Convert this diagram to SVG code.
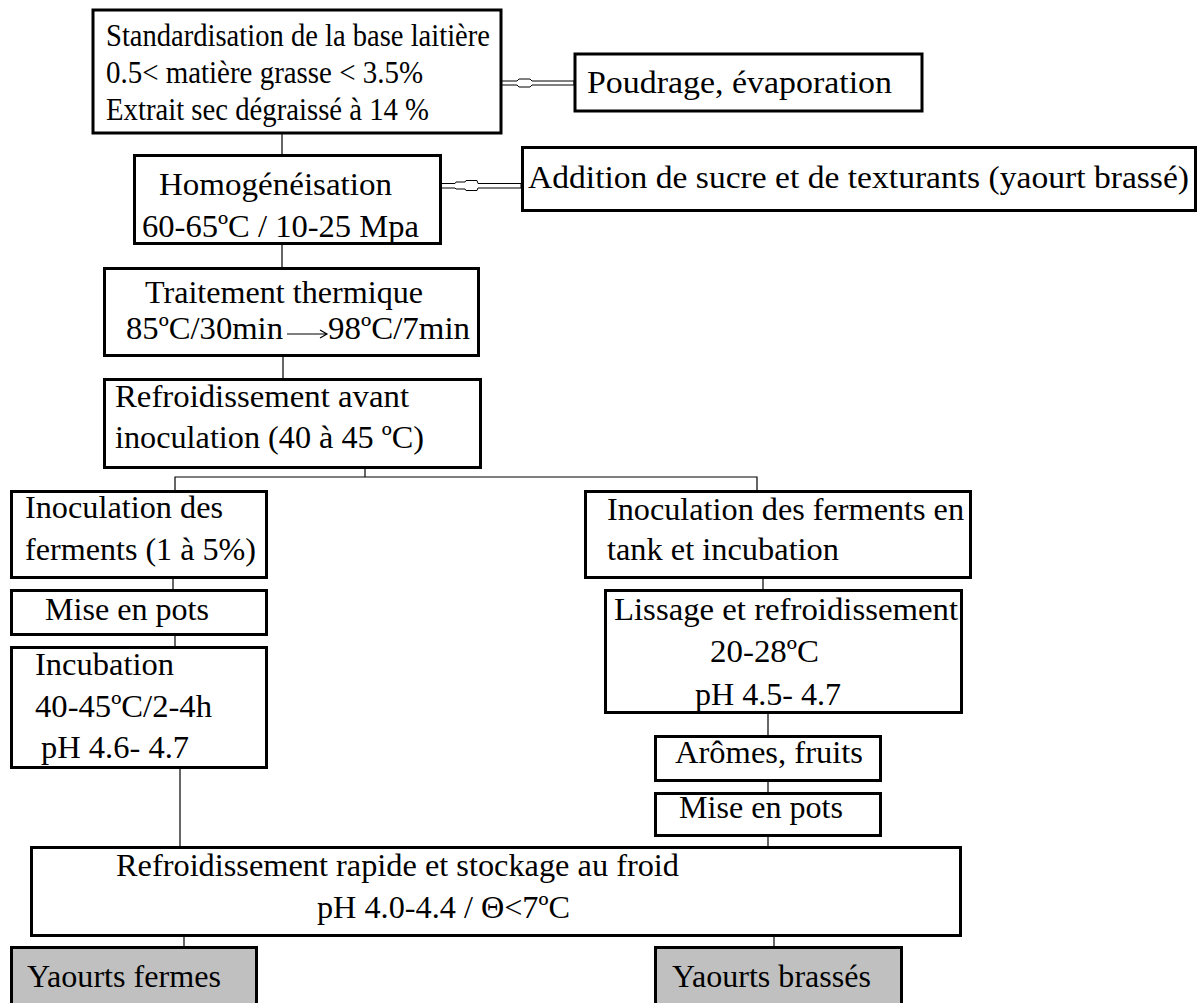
<svg xmlns="http://www.w3.org/2000/svg" width="1200" height="1003" viewBox="0 0 1200 1003">
<style>
.box{fill:#fff;stroke:#000;stroke-width:3}
.gbox{fill:#c0c0c0;stroke:#000;stroke-width:3}
text{font-family:'Liberation Serif','Times New Roman',Times,serif;font-size:32px;fill:#000}
.c{stroke:#000;stroke-width:1.2;fill:none}
.da{fill:#fff;stroke:#000;stroke-width:1}
</style>
<rect width="1200" height="1003" fill="#fff"/>
<g id="connectors">
<line class="c" x1="282" y1="134" x2="282" y2="155" stroke-width="2"/>
<line class="c" x1="282" y1="244" x2="282" y2="268"/>
<line class="c" x1="283" y1="357" x2="283" y2="379"/>
<polyline class="c" points="365,468 365,477"/>
<polyline class="c" points="175,491 175,477 757,477 757,491"/>
<line class="c" x1="173" y1="579" x2="173" y2="590"/>
<line class="c" x1="175" y1="636" x2="175" y2="647"/>
<line class="c" x1="180" y1="769" x2="180" y2="847"/>
<line class="c" x1="763" y1="579" x2="763" y2="590"/>
<line class="c" x1="768" y1="714" x2="768" y2="736"/>
<line class="c" x1="768" y1="782" x2="768" y2="793"/>
<line class="c" x1="768" y1="837" x2="768" y2="847"/>
<line class="c" x1="184" y1="937" x2="184" y2="947"/>
<line class="c" x1="774" y1="937" x2="774" y2="947"/>
<path class="da" d="M499,81 L517,81 L519,79 L530,79 L532,81 L574,81 L574,85 L532,85 L530,87 L519,87 L517,85 L499,85 Z"/>
<path class="da" d="M438,183.5 L455,183.5 L456,182 L465,182 L466,180.5 L477,180.5 L478,183.5 L521,183.5 L521,188 L478,188 L477,190.5 L466,190.5 L465,189 L456,189 L455,188 L438,188 Z"/>
</g>
<g id="n-standardisation">
<rect class="box" x="93" y="10" width="408" height="123"/>
<text x="106" y="46" textLength="384" lengthAdjust="spacingAndGlyphs">Standardisation de la base laitière</text>
<text x="106" y="83" textLength="317" lengthAdjust="spacingAndGlyphs">0.5&lt; matière grasse &lt; 3.5%</text>
<text x="106" y="120" textLength="323" lengthAdjust="spacingAndGlyphs">Extrait sec dégraissé à 14 %</text>
</g>
<g id="n-poudrage">
<rect class="box" x="575" y="54" width="347" height="57"/>
<text x="587" y="93" textLength="305" lengthAdjust="spacingAndGlyphs">Poudrage, évaporation</text>
</g>
<g id="n-homogeneisation">
<rect class="box" x="134.5" y="155.5" width="306" height="88"/>
<text x="159" y="195" textLength="233" lengthAdjust="spacingAndGlyphs">Homogénéisation</text>
<text x="142" y="237" textLength="277" lengthAdjust="spacingAndGlyphs">60-65ºC / 10-25 Mpa</text>
</g>
<g id="n-addition">
<rect class="box" x="522.5" y="147.5" width="673" height="63"/>
<text x="528" y="188" textLength="661" lengthAdjust="spacingAndGlyphs">Addition de sucre et de texturants (yaourt brassé)</text>
</g>
<g id="n-traitement">
<rect class="box" x="104.5" y="268.5" width="374" height="87"/>
<text x="145" y="303" textLength="278" lengthAdjust="spacingAndGlyphs">Traitement thermique</text>
<text x="126" y="339" textLength="157" lengthAdjust="spacingAndGlyphs">85ºC/30min</text>
<path class="c" d="M287,334 L327,334 M320,330 L327,334 L320,338"/>
<text x="328" y="339" textLength="142" lengthAdjust="spacingAndGlyphs">98ºC/7min</text>
</g>
<g id="n-refroid-avant">
<rect class="box" x="104.5" y="379.5" width="376" height="88"/>
<text x="115" y="407" textLength="294" lengthAdjust="spacingAndGlyphs">Refroidissement avant</text>
<text x="115" y="448" textLength="309" lengthAdjust="spacingAndGlyphs">inoculation (40 à 45 ºC)</text>
</g>
<g id="n-inoc-left">
<rect class="box" x="11.5" y="491.5" width="255" height="86"/>
<text x="25" y="518" textLength="198" lengthAdjust="spacingAndGlyphs">Inoculation des</text>
<text x="25" y="560" textLength="231" lengthAdjust="spacingAndGlyphs">ferments (1 à 5%)</text>
</g>
<g id="n-pots-left">
<rect class="box" x="11.5" y="590.5" width="255" height="44"/>
<text x="45" y="620" textLength="164" lengthAdjust="spacingAndGlyphs">Mise en pots</text>
</g>
<g id="n-incubation">
<rect class="box" x="11.5" y="647.5" width="255" height="120"/>
<text x="35" y="675" textLength="139" lengthAdjust="spacingAndGlyphs">Incubation</text>
<text x="35" y="717" textLength="177" lengthAdjust="spacingAndGlyphs">40-45ºC/2-4h</text>
<text x="41" y="758" textLength="148" lengthAdjust="spacingAndGlyphs">pH 4.6- 4.7</text>
</g>
<g id="n-inoc-right">
<rect class="box" x="585.5" y="491.5" width="385" height="86"/>
<text x="607" y="520" textLength="357" lengthAdjust="spacingAndGlyphs">Inoculation des ferments en</text>
<text x="607" y="560" textLength="232" lengthAdjust="spacingAndGlyphs">tank et incubation</text>
</g>
<g id="n-lissage">
<rect class="box" x="605.5" y="590.5" width="356" height="122"/>
<text x="614" y="620" textLength="344" lengthAdjust="spacingAndGlyphs">Lissage et refroidissement</text>
<text x="710" y="662" textLength="109" lengthAdjust="spacingAndGlyphs">20-28ºC</text>
<text x="695" y="705" textLength="146" lengthAdjust="spacingAndGlyphs">pH 4.5- 4.7</text>
</g>
<g id="n-aromes">
<rect class="box" x="655.5" y="736.5" width="225" height="44"/>
<text x="675" y="763" textLength="188" lengthAdjust="spacingAndGlyphs">Arômes, fruits</text>
</g>
<g id="n-pots-right">
<rect class="box" x="655.5" y="793.5" width="225" height="42"/>
<text x="679" y="818" textLength="164" lengthAdjust="spacingAndGlyphs">Mise en pots</text>
</g>
<g id="n-refroid-rapide">
<rect class="box" x="31.5" y="847.5" width="929" height="88"/>
<text x="116" y="876" textLength="563" lengthAdjust="spacingAndGlyphs">Refroidissement rapide et stockage au froid</text>
<text x="317" y="918" textLength="253" lengthAdjust="spacingAndGlyphs">pH 4.0-4.4 / Θ&lt;7ºC</text>
</g>
<g id="n-yaourts-fermes">
<rect class="gbox" x="11.5" y="947.5" width="245" height="70"/>
<text x="27" y="987" textLength="194" lengthAdjust="spacingAndGlyphs">Yaourts fermes</text>
</g>
<g id="n-yaourts-brasses">
<rect class="gbox" x="655.5" y="947.5" width="246" height="70"/>
<text x="672" y="987" textLength="199" lengthAdjust="spacingAndGlyphs">Yaourts brassés</text>
</g>
</svg>
